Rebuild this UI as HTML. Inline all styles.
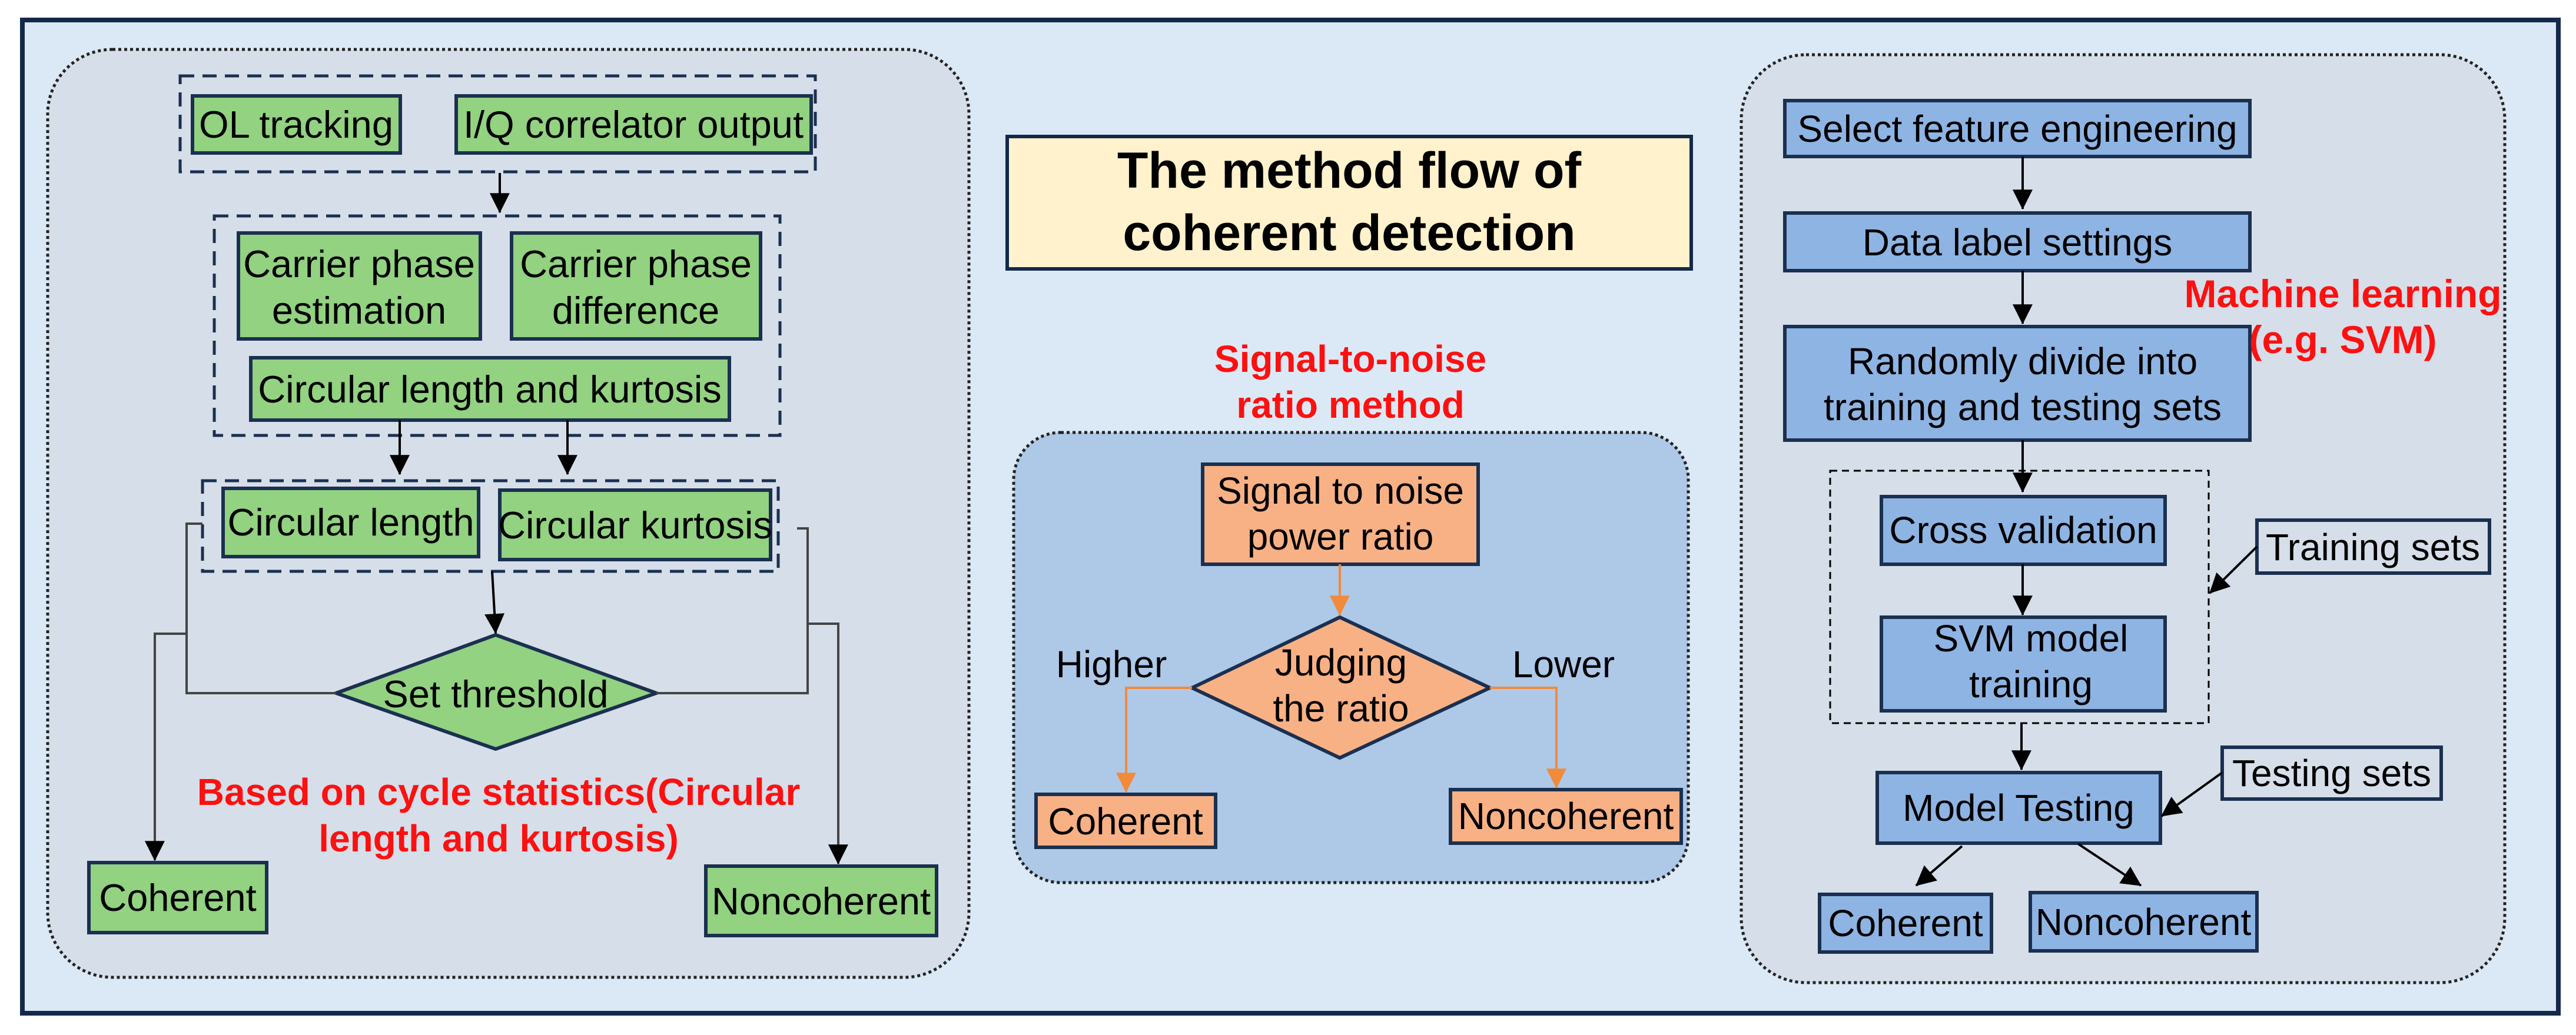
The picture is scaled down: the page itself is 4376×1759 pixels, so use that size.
<!DOCTYPE html>
<html><head><meta charset="utf-8"><style>
html,body{margin:0;padding:0;background:#fff}
svg{display:block}
text{font-family:"Liberation Sans",Arial,sans-serif}
</style></head><body>
<svg width="4376" height="1759" viewBox="0 0 4376 1759" xmlns="http://www.w3.org/2000/svg">
<defs>
<marker id="ak" markerWidth="10" markerHeight="10" refX="9" refY="5" orient="auto" markerUnits="userSpaceOnUse" viewBox="0 0 10 10" style="overflow:visible">
<path d="M0,0 L10,5 L0,10 z" fill="#000" transform="scale(3.4) translate(-7,-3.5)"/>
</marker>
<marker id="ao" markerWidth="10" markerHeight="10" refX="9" refY="5" orient="auto" markerUnits="userSpaceOnUse" viewBox="0 0 10 10" style="overflow:visible">
<path d="M0,0 L10,5 L0,10 z" fill="#f28a3c" transform="scale(3.4) translate(-7,-3.5)"/>
</marker>
</defs>
<rect x="0" y="0" width="4376" height="1759" fill="#fff"/>
<rect x="38" y="34" width="4308" height="1688" fill="#dbe9f6" stroke="#14294a" stroke-width="8"/>

<!-- Left panel -->
<rect x="81" y="84" width="1565" height="1577" rx="110" fill="#d6dee9" stroke="#222" stroke-width="5" stroke-dasharray="5,5"/>
<g stroke="#1b3050" stroke-width="5" fill="none" stroke-dasharray="24,14">
<rect x="306" y="129" width="1079" height="163"/>
<rect x="364" y="367" width="961" height="373"/>
<rect x="344" y="817" width="978" height="154"/>
</g>
<g fill="#92d281" stroke="#1b3050" stroke-width="6">
<rect x="327" y="163" width="353" height="97"/>
<rect x="775" y="163" width="603" height="97"/>
<rect x="405" y="396" width="411" height="180"/>
<rect x="869" y="396" width="423" height="180"/>
<rect x="426" y="608" width="813" height="106"/>
<rect x="379" y="830" width="434" height="116"/>
<rect x="849" y="833" width="460" height="118"/>
<polygon points="571,1178 842,1079 1115,1178 842,1273"/>
<rect x="151" y="1466" width="302" height="119"/>
<rect x="1199" y="1472" width="392" height="118"/>
</g>
<g stroke="#000" stroke-width="4" fill="none">
<line x1="849" y1="294" x2="849" y2="361" marker-end="url(#ak)"/>
<line x1="679" y1="714" x2="679" y2="806" marker-end="url(#ak)"/>
<line x1="964" y1="714" x2="964" y2="806" marker-end="url(#ak)"/>
<line x1="836" y1="971" x2="842" y2="1076" marker-end="url(#ak)"/>
</g>
<g stroke="#444" stroke-width="4" fill="none">
<polyline points="344,890 317,890 317,1178 571,1178"/>
<polyline points="317,1077 263,1077 263,1462" marker-end="url(#ak)"/>
<polyline points="1354,898 1372,898 1372,1178 1115,1178"/>
<polyline points="1372,1060 1424,1060 1424,1468" marker-end="url(#ak)"/>
</g>
<g font-size="65" fill="#000" text-anchor="middle">
<text x="503" y="234">OL tracking</text>
<text x="1076" y="234">I/Q correlator output</text>
<text x="610" y="471">Carrier phase</text>
<text x="610" y="550">estimation</text>
<text x="1080" y="471">Carrier phase</text>
<text x="1080" y="550">difference</text>
<text x="832" y="684">Circular length and kurtosis</text>
<text x="596" y="910">Circular length</text>
<text x="1079" y="915">Circular kurtosis</text>
<text x="842" y="1202">Set threshold</text>
<text x="302" y="1548">Coherent</text>
<text x="1395" y="1554">Noncoherent</text>
</g>
<g font-size="64" font-weight="bold" fill="#ff1010" text-anchor="middle">
<text x="847" y="1368">Based on cycle statistics(Circular</text>
<text x="847" y="1447">length and kurtosis)</text>
</g>

<!-- Middle -->
<rect x="1711" y="232" width="1162" height="225" fill="#fff2cc" stroke="#14294a" stroke-width="6"/>
<g font-size="86" font-weight="bold" fill="#000" text-anchor="middle">
<text x="2292" y="319">The method flow of</text>
<text x="2292" y="425">coherent detection</text>
</g>
<g font-size="64" font-weight="bold" fill="#ff1010" text-anchor="middle">
<text x="2294" y="632">Signal-to-noise</text>
<text x="2294" y="710">ratio method</text>
</g>
<rect x="1722" y="735" width="1146" height="765" rx="80" fill="#aec8e8" stroke="#222" stroke-width="5" stroke-dasharray="5,5"/>
<g fill="#f8b185" stroke="#1b3050" stroke-width="6">
<rect x="2043" y="789" width="468" height="170"/>
<polygon points="2025,1169 2276,1049 2531,1169 2276,1288"/>
<rect x="1760" y="1350" width="305" height="90"/>
<rect x="2464" y="1342" width="392" height="91"/>
</g>
<g stroke="#f28a3c" stroke-width="4" fill="none">
<line x1="2276" y1="959" x2="2276" y2="1045" marker-end="url(#ao)"/>
<polyline points="2025,1169 1913,1169 1913,1346" marker-end="url(#ao)"/>
<polyline points="2531,1169 2644,1169 2644,1339" marker-end="url(#ao)"/>
</g>
<g font-size="64" fill="#000" text-anchor="middle">
<text x="2277" y="856">Signal to noise</text>
<text x="2277" y="934">power ratio</text>
<text x="2278" y="1148">Judging</text>
<text x="2278" y="1226">the ratio</text>
<text x="1888" y="1151">Higher</text>
<text x="2656" y="1151">Lower</text>
<text x="1912" y="1418">Coherent</text>
<text x="2660" y="1409">Noncoherent</text>
</g>

<!-- Right -->
<rect x="2958" y="93" width="1297" height="1577" rx="110" fill="#d6dee9" stroke="#222" stroke-width="5" stroke-dasharray="5,5"/>
<rect x="3109" y="800" width="643" height="429" fill="none" stroke="#000" stroke-width="3" stroke-dasharray="12,8"/>
<g fill="#8eb4e3" stroke="#1b3050" stroke-width="6">
<rect x="3032" y="171" width="790" height="95"/>
<rect x="3032" y="362" width="790" height="98"/>
<rect x="3032" y="555" width="790" height="193"/>
<rect x="3196" y="844" width="482" height="115"/>
<rect x="3196" y="1049" width="482" height="159"/>
<rect x="3189" y="1313" width="481" height="120"/>
<rect x="3091" y="1520" width="292" height="98"/>
<rect x="3449" y="1517" width="385" height="99"/>
</g>
<g fill="#d6dee9" stroke="#1b3050" stroke-width="6">
<rect x="3834" y="884" width="395" height="90"/>
<rect x="3775" y="1270" width="372" height="88"/>
</g>
<g stroke="#000" stroke-width="4" fill="none">
<line x1="3436" y1="266" x2="3436" y2="355" marker-end="url(#ak)"/>
<line x1="3436" y1="460" x2="3436" y2="550" marker-end="url(#ak)"/>
<line x1="3436" y1="748" x2="3436" y2="836" marker-end="url(#ak)"/>
<line x1="3436" y1="959" x2="3436" y2="1045" marker-end="url(#ak)"/>
<line x1="3434" y1="1229" x2="3434" y2="1308" marker-end="url(#ak)"/>
<line x1="3834" y1="929" x2="3754" y2="1008" marker-end="url(#ak)"/>
<line x1="3775" y1="1313" x2="3672" y2="1387" marker-end="url(#ak)"/>
<line x1="3333" y1="1438" x2="3255" y2="1505" marker-end="url(#ak)"/>
<line x1="3530" y1="1434" x2="3637" y2="1505" marker-end="url(#ak)"/>
</g>
<g font-size="64" fill="#000" text-anchor="middle">
<text x="3427" y="241">Select feature engineering</text>
<text x="3427" y="434">Data label settings</text>
<text x="3436" y="636">Randomly divide into</text>
<text x="3436" y="714">training and testing sets</text>
<text x="3437" y="923">Cross validation</text>
<text x="3450" y="1107">SVM model</text>
<text x="3450" y="1185">training</text>
<text x="3429" y="1395">Model Testing</text>
<text x="3237" y="1591">Coherent</text>
<text x="3641" y="1589">Noncoherent</text>
<text x="4031" y="952">Training sets</text>
<text x="3961" y="1336">Testing sets</text>
</g>
<g font-size="66" font-weight="bold" fill="#ff1010" text-anchor="middle">
<text x="3980" y="522">Machine learning</text>
<text x="3980" y="600">(e.g. SVM)</text>
</g>
</svg>
</body></html>
